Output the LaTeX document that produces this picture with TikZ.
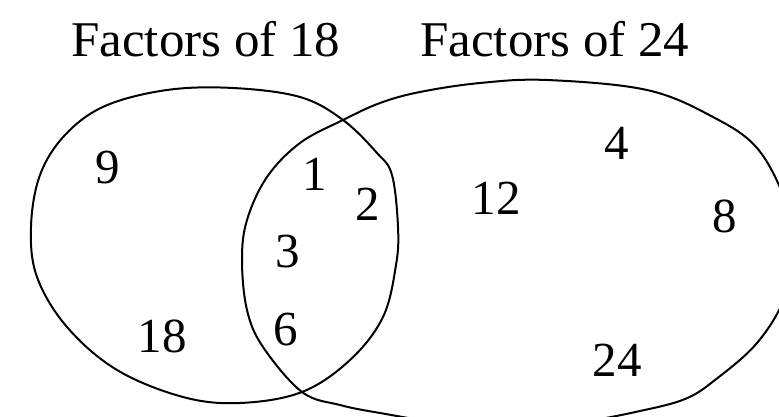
\documentclass[tikz,border=0pt]{standalone}
\usepackage{fontspec}
\setmainfont{Liberation Serif}
\begin{document}
\begin{tikzpicture}[x=1pt,y=-1pt,
  num/.style={anchor=base,inner sep=0pt,font=\fontsize{49}{55}\selectfont},
  ttl/.style={anchor=base west,inner sep=0pt,font=\fontsize{50}{56}\selectfont},
  setline/.style={line width=2pt,line join=round}]
\useasboundingbox (0,0) rectangle (779,417);
\node[ttl,xscale=1.02] (t18) at (71,57) {Factors of 18};
\node[ttl,xscale=1.02] (t24) at (420,57) {Factors of 24};
% left set
\draw[setline] plot[smooth cycle,tension=0.6] coordinates{
 (233,88) (300,97) (343,120) (377,153) (392,175) (398,227) (396,265) (383,317) (350,360) (302,392)
 (240,403) (183,397) (117,370) (67,327) (37,277) (31,227) (40,175) (65,135) (105,106) (167,90)};
% right set (clipped at picture edge)
\begin{scope}
\clip (0,0) rectangle (779,417);
\draw[setline] plot[smooth cycle,tension=0.6] coordinates{
 (547,80) (647,90) (713,117) (757,148) (785,200) (794,247) (785,297) (757,343) (715,380) (685,399) (640,411)
 (580,422) (515,426) (450,424) (380,413) (340,405) (302,392) (263,347) (247,310) (242,260) (247,220)
 (267,177) (300,143) (343,120) (380,103) (420,92) (480,83)};
\end{scope}
\node[num] (n9) at (108,183) {9};
\node[num] (n18) at (162,352) {18};
\node[num] (n1) at (315,190) {1};
\node[num] (n2) at (368,220) {2};
\node[num] (n3) at (288,267) {3};
\node[num] (n6) at (286,345) {6};
\node[num] (n12) at (496,214) {12};
\node[num] (n4) at (617,160) {4};
\node[num] (n8) at (725,232) {8};
\node[num] (n24) at (617,376) {24};
\end{tikzpicture}
\end{document}
